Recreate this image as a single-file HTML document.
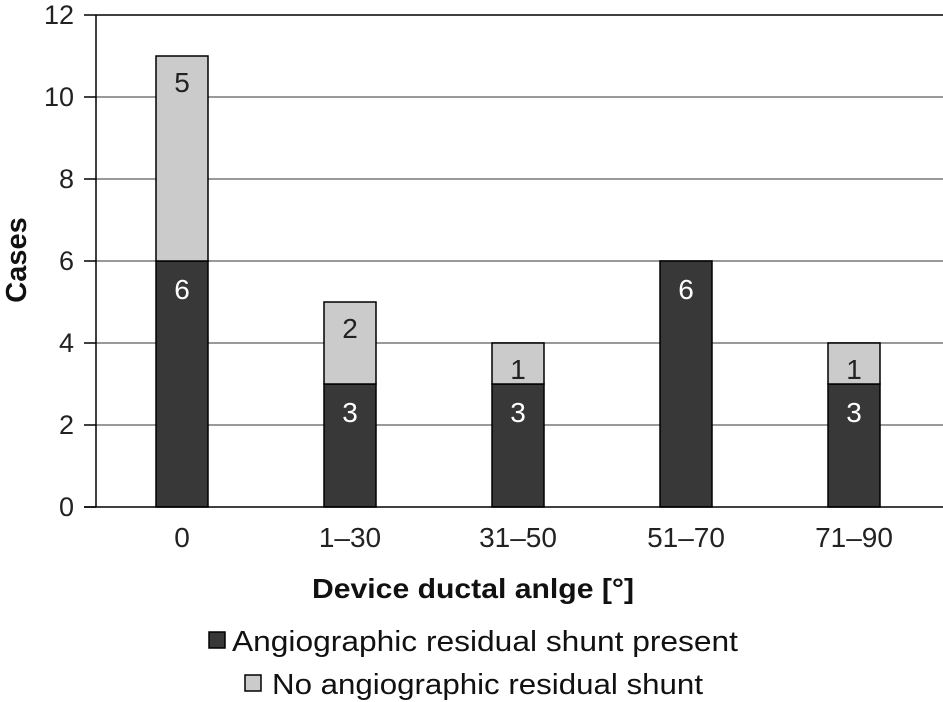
<!DOCTYPE html>
<html><head><meta charset="utf-8"><style>
body{margin:0;background:#fff;}
svg{display:block;font-family:"Liberation Sans",sans-serif;}
</style></head><body>
<svg id="chart" width="943" height="702">
<g id="grid"></g><g id="bars"></g><g id="axes"></g>
<text x="312" y="598" textLength="322" lengthAdjust="spacingAndGlyphs" font-size="28" font-weight="bold" fill="#111">Device ductal anlge [°]</text>
<text transform="translate(26,260) rotate(-90)" text-anchor="middle" font-size="29" font-weight="bold" fill="#111">Cases</text>
<g>
<g>
<rect x="209" y="632" width="16" height="16" fill="#383838" stroke="#000" stroke-width="1.5"/>
<text x="232" y="651" textLength="506" lengthAdjust="spacingAndGlyphs" font-size="29" fill="#111">Angiographic residual shunt present</text></g>
<g>
<rect x="245" y="675" width="16" height="16" fill="#cbcbcb" stroke="#000" stroke-width="1.5"/>
<text x="272" y="694" textLength="431" lengthAdjust="spacingAndGlyphs" font-size="29" fill="#111">No angiographic residual shunt</text></g>
</g>
</svg>
<script>
const categories=["0","1–30","31–50","51–70","71–90"];
const shuntPresent=[6,3,3,6,3];
const noShunt=[5,2,1,0,1];
const yTicks=[0,2,4,6,8,10,12];
const NS="http://www.w3.org/2000/svg";
const x0=96,x1=943,y0=507,y1=15,ymax=12;
const band=168;
const bw=52;
function y(v){return y0-(v/ymax)*(y0-y1);}
function xc(i){return 182+band*i;}
function mk(tag,attrs,parent,text){const e=document.createElementNS(NS,tag);for(const k in attrs)e.setAttribute(k,attrs[k]);if(text!==undefined)e.textContent=text;parent.appendChild(e);return e;}
const grid=document.getElementById('grid'),bars=document.getElementById('bars'),axes=document.getElementById('axes');
yTicks.forEach(t=>{
  if(t>0){const l=mk('line',{x1:x0,x2:x1,y1:y(t),y2:y(t),stroke:t===ymax?'#000':'#999','stroke-width':t===ymax?1.5:2},grid);
  
  }
  const tk=mk('line',{x1:x0-12,x2:x0,y1:y(t),y2:y(t),stroke:'#000','stroke-width':1.5},axes);
  
  
  const tl=mk('text',{x:x0-22,y:y(t)+9,'text-anchor':'end','font-size':27,fill:'#222'},axes,String(t));
  
  
});
const ax=mk('line',{x1:x0,x2:x0,y1:y1,y2:y0,stroke:'#000','stroke-width':1.5},axes);


const bx=mk('line',{x1:x0-12,x2:x1,y1:y0,y2:y0,stroke:'#000','stroke-width':1.5},axes);


categories.forEach((c,i)=>{
  const cx=xc(i);
  const a=shuntPresent[i],b=noShunt[i];
  const r1=mk('rect',{x:cx-bw/2,y:y(a),width:bw,height:y(0)-y(a),fill:'#383838',stroke:'#000','stroke-width':1.5},bars);
  
  
  const t1=mk('text',{x:cx,y:y(a)+38,'text-anchor':'middle','font-size':28,fill:'#fff'},bars,String(a));
  
  
  if(b>0){
    const r2=mk('rect',{x:cx-bw/2,y:y(a+b),width:bw,height:y(a)-y(a+b),fill:'#cbcbcb',stroke:'#000','stroke-width':1.5},bars);
    
    
    const t2=mk('text',{x:cx,y:y(a+b)+36,'text-anchor':'middle','font-size':28,fill:'#222'},bars,String(b));
    
    
  }
  const xl=mk('text',{x:cx,y:547,'text-anchor':'middle','font-size':28,fill:'#222'},axes,c);
  
  
});
</script>
</body></html>
